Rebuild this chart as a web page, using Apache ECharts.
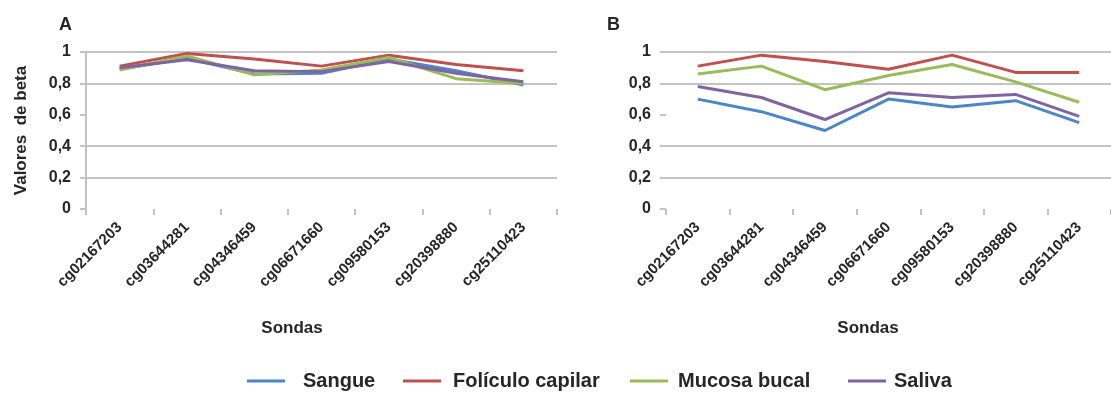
<!DOCTYPE html>
<html>
<head>
<meta charset="utf-8">
<script src="https://cdn.jsdelivr.net/npm/echarts@6/dist/echarts.min.js"></script>
<style>
html,body{margin:0;padding:0;background:#fff;}
#chart{width:1111px;height:394px;}
</style>
</head>
<body>
<div id="chart"></div>
<script>
// ---- data ----
var categories = ['cg02167203','cg03644281','cg04346459','cg06671660','cg09580153','cg20398880','cg25110423'];
var seriesNames = ['Sangue','Folículo capilar','Mucosa bucal','Saliva'];
var yTicks = [0, 0.2, 0.4, 0.6, 0.8, 1];

// Panel A
var sangueA   = [0.89, 0.96, 0.86, 0.865, 0.955, 0.88, 0.79];
var foliculoA = [0.91, 0.99, 0.955, 0.91, 0.98, 0.92, 0.88];
var mucosaA   = [0.885, 0.975, 0.855, 0.885, 0.965, 0.83, 0.80];
var salivaA   = [0.90, 0.95, 0.88, 0.875, 0.94, 0.865, 0.81];

// Panel B
var sangueB   = [0.70, 0.62, 0.50, 0.70, 0.65, 0.69, 0.55];
var foliculoB = [0.91, 0.98, 0.94, 0.89, 0.98, 0.87, 0.87];
var mucosaB   = [0.86, 0.91, 0.76, 0.85, 0.92, 0.81, 0.68];
var salivaB   = [0.78, 0.71, 0.57, 0.74, 0.71, 0.73, 0.59];

var colors = ['#4a86c8', '#c0504d', '#9bbb59', '#8064a2'];
var FONT = '"Liberation Sans", Arial, sans-serif';
var TXT = '#262626';
var GRID = '#c3c3c3';

var chart = echarts.init(document.getElementById('chart'), null, {renderer: 'canvas'});

function xAxisFor(idx) {
  return {
    type: 'category', gridIndex: idx, data: categories, boundaryGap: true,
    axisLine: {show: false},
    axisTick: {show: true, interval: 0, length: 6, lineStyle: {color: GRID, width: 2}},
    axisLabel: {interval: 0, rotate: 45, margin: 16, fontFamily: FONT, fontWeight: 'bold', fontSize: 15, color: TXT},
    splitLine: {show: false}
  };
}
function yAxisFor(idx, showLine) {
  return {
    type: 'value', gridIndex: idx, min: yTicks[0], max: yTicks[yTicks.length - 1], interval: 0.2,
    axisLine: {show: showLine, lineStyle: {color: GRID, width: 2}},
    axisTick: {show: true, length: 6, lineStyle: {color: GRID, width: 2}},
    axisLabel: {margin: 15, fontFamily: FONT, fontWeight: 'bold', fontSize: 16, color: TXT,
      formatter: function (v) { return String(Math.round(v * 10) / 10).replace('.', ','); }},
    splitLine: {show: true, lineStyle: {width: 2,
      color: ['rgba(0,0,0,0)', GRID, GRID, 'rgba(0,0,0,0)', GRID, GRID]}}
  };
}

var dataA = [sangueA, foliculoA, mucosaA, salivaA];
var dataB = [sangueB, foliculoB, mucosaB, salivaB];
var series = [];
[dataA, dataB].forEach(function (set, gi) {
  set.forEach(function (vals, si) {
    series.push({
      name: seriesNames[si], type: 'line', xAxisIndex: gi, yAxisIndex: gi,
      data: vals, symbol: 'none', color: colors[si],
      lineStyle: {width: 3, color: colors[si]}, animation: false
    });
  });
});

var legendLefts = [247, 403, 630, 848];
var legendGaps = [13, 7, 5, 3];
var legends = seriesNames.map(function (n, i) {
  return {
    left: legendLefts[i], top: 371, padding: 0,
    itemWidth: 38, itemHeight: 3,
    data: [{name: n, icon: 'rect'}],
    selectedMode: false,
    textStyle: {fontFamily: FONT, fontWeight: 'bold', fontSize: 20, color: TXT, padding: [0, 0, 0, legendGaps[i]]}
  };
});

var yA = yAxisFor(0, true);
yA.name = 'Valores  de beta';
yA.nameLocation = 'middle';
yA.nameRotate = 90;
yA.nameGap = 56;
yA.nameTextStyle = {fontFamily: FONT, fontWeight: 'bold', fontSize: 17, color: TXT};

var option = {
  backgroundColor: '#ffffff',
  animation: false,
  grid: [
    {left: 86, right: 1111 - 557, top: 52, bottom: 394 - 209},
    {left: 666, right: -5, top: 52, bottom: 394 - 209}
  ],
  xAxis: [xAxisFor(0), xAxisFor(1)],
  yAxis: [yA, yAxisFor(1, false)],
  legend: legends,
  graphic: [
    {type: 'text', left: 59, top: 16, style: {text: 'A', font: 'bold 18px ' + FONT, fill: TXT}},
    {type: 'text', left: 607, top: 16, style: {text: 'B', font: 'bold 18px ' + FONT, fill: TXT}},
    {type: 'text', x: 292, y: 328, style: {text: 'Sondas', font: 'bold 17px ' + FONT, fill: TXT, textAlign: 'center', textVerticalAlign: 'middle'}},
    {type: 'text', x: 868, y: 328, style: {text: 'Sondas', font: 'bold 17px ' + FONT, fill: TXT, textAlign: 'center', textVerticalAlign: 'middle'}}
  ],
  series: series
};
chart.setOption(option);
</script>
</body>
</html>
